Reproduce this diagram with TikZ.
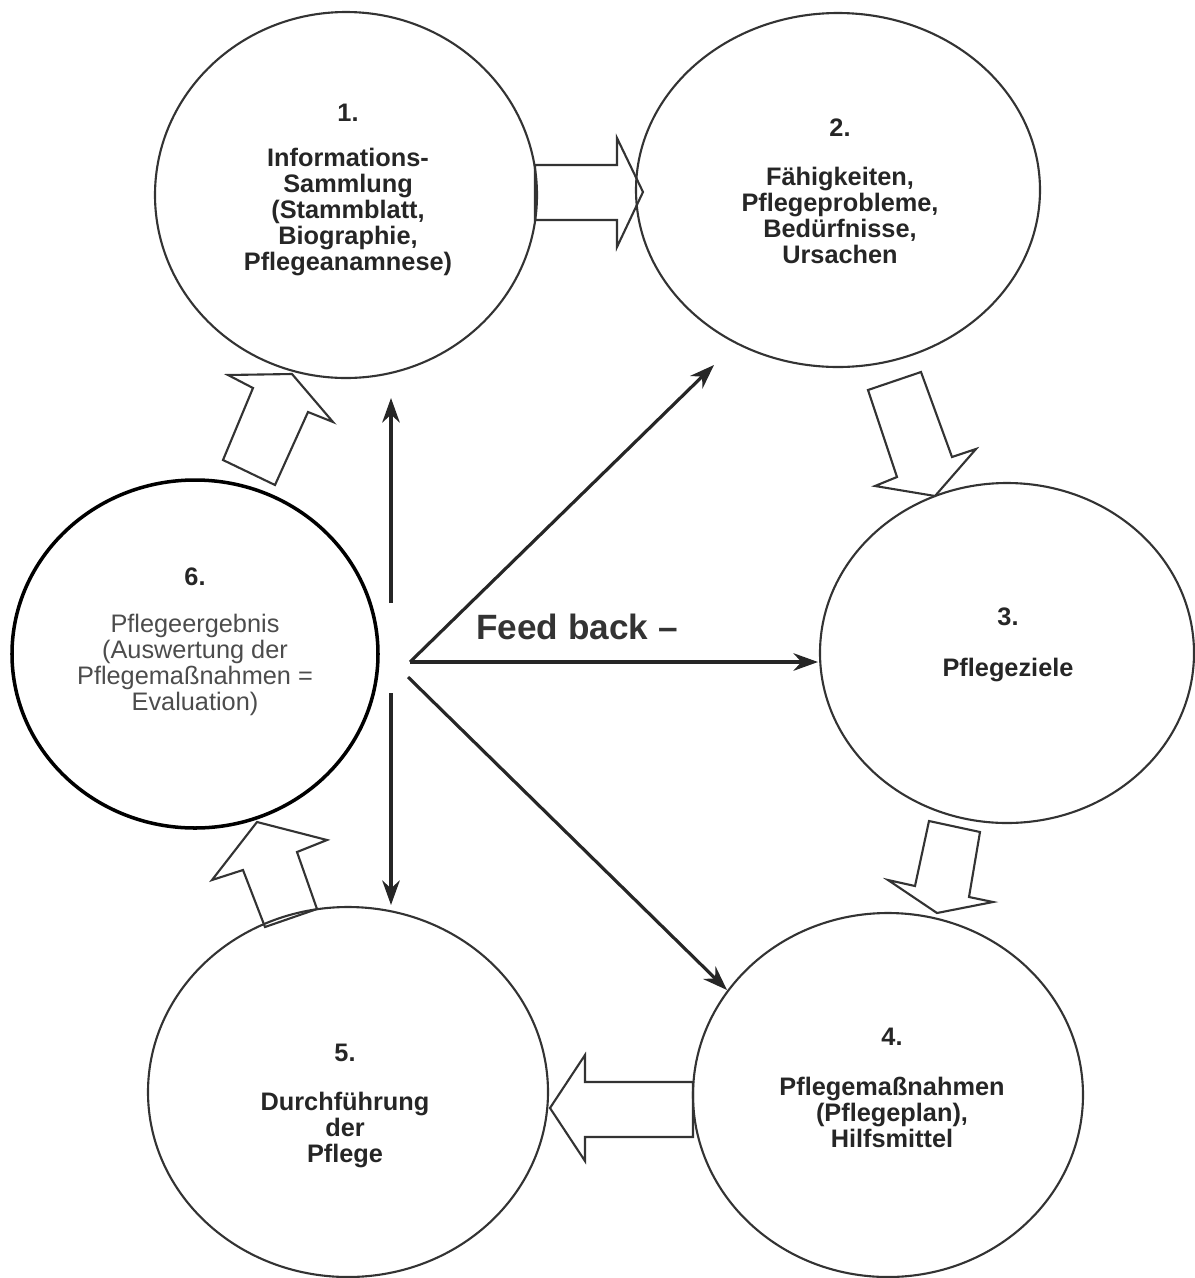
\documentclass[tikz,border=0pt]{standalone}
\usepackage{fontspec}
\setmainfont{Liberation Sans}
\usetikzlibrary{arrows.meta}

\tikzset{
  stage/.style={draw=black!80, line width=0.6pt},
  stagetxt/.style={font=\fontsize{7.2}{7.4}\selectfont\bfseries, text=black!85, align=center, inner sep=0pt},
  blockarrow/.style={draw=black!80, line width=0.6pt, line join=miter},
  feedback/.style={draw=black!85, line width=0.9pt, -{Stealth[length=7pt,width=5pt]}}
}

\begin{document}
\begin{tikzpicture}[x=0.01cm, y=-0.01cm]
    \useasboundingbox (0,0) rectangle (1195,1278);

    % Stages of the care process
    \draw[stage] (346,195) ellipse [x radius=191, y radius=183];
    \draw[stage] (838,190) ellipse [x radius=202, y radius=177];
    \draw[stage] (1007,653) ellipse [x radius=187, y radius=170];
    \draw[stage] (888,1095) ellipse [x radius=195, y radius=182];
    \draw[stage] (348,1092) ellipse [x radius=200, y radius=185];
    \draw[stage, draw=black, line width=1pt] (195,654) ellipse [x radius=183, y radius=174];

    % Numbers and texts
    \node[stagetxt] (n1) at (348,113) {1.};
    \node[stagetxt] (t1) at (348,212) {Informations-\\Sammlung\\(Stammblatt,\\Biographie,\\Pflegeanamnese)};
    \node[stagetxt] (n2) at (840,128) {2.};
    \node[stagetxt] (t2) at (840,215) {Fähigkeiten,\\Pflegeprobleme,\\Bedürfnisse,\\Ursachen};
    \node[stagetxt] (n3) at (1008,617) {3.};
    \node[stagetxt] (t3) at (1008,670) {Pflegeziele};
    \node[stagetxt] (n4) at (892,1037) {4.};
    \node[stagetxt] (t4) at (892,1112) {Pflegemaßnahmen\\(Pflegeplan),\\Hilfsmittel};
    \node[stagetxt] (n5) at (345,1053) {5.};
    \node[stagetxt] (t5) at (345,1130) {Durchführung\\der\\Pflege};
    \node[stagetxt] (n6) at (195,577) {6.};
    \node[stagetxt, font=\fontsize{7.2}{7.4}\selectfont, text=black!70] (t6) at (195,665)
      {Pflegeergebnis\\(Auswertung der\\Pflegemaßnahmen =\\Evaluation)};

    % Block arrows between the stages
    \draw[blockarrow] (535,165) -- (617,165) -- (617,138) -- (643,192) -- (617,247) -- (617,220) -- (535,220) -- cycle;
    \draw[blockarrow] (868,390) -- (921,372) -- (952,457) -- (976,449) -- (935,496) -- (875,486) -- (897,477) -- cycle;
    \draw[blockarrow] (929,821) -- (980,832) -- (969,897) -- (993,902) -- (937,913) -- (888,880) -- (915,886) -- cycle;
    \draw[blockarrow] (693,1082) -- (585,1082) -- (585,1055) -- (550,1108) -- (585,1161) -- (585,1137) -- (693,1137) -- cycle;
    \draw[blockarrow] (265,927) -- (317,909) -- (297,852) -- (327,840) -- (257,822) -- (212,880) -- (243,870) -- cycle;
    \draw[blockarrow] (223,460) -- (275,485) -- (308,412) -- (333,422) -- (292,374) -- (228,375) -- (253,388) -- cycle;

    % Feed back
    \coordinate (fb) at (410,662);
    \coordinate (fbup) at (391,603);
    \coordinate (fbdown) at (391,693);
    \coordinate (to1) at (391,398);
    \coordinate (to2) at (714,365);
    \coordinate (to3) at (818,662);
    \coordinate (to4) at (727,990);
    \coordinate (to5) at (391,905);
    \draw[feedback] (fbup) -- (to1);
    \draw[feedback] (fbdown) -- (to5);
    \draw[feedback] (fb) -- (to2);
    \draw[feedback] (fb) -- (to3);
    \draw[feedback] ([shift={(-2,15)}]fb) -- (to4);
    \node[font=\fontsize{10}{12}\selectfont\bfseries, text=black!80] (fbtxt) at (577,627) {Feed back --};
\end{tikzpicture}
\end{document}
